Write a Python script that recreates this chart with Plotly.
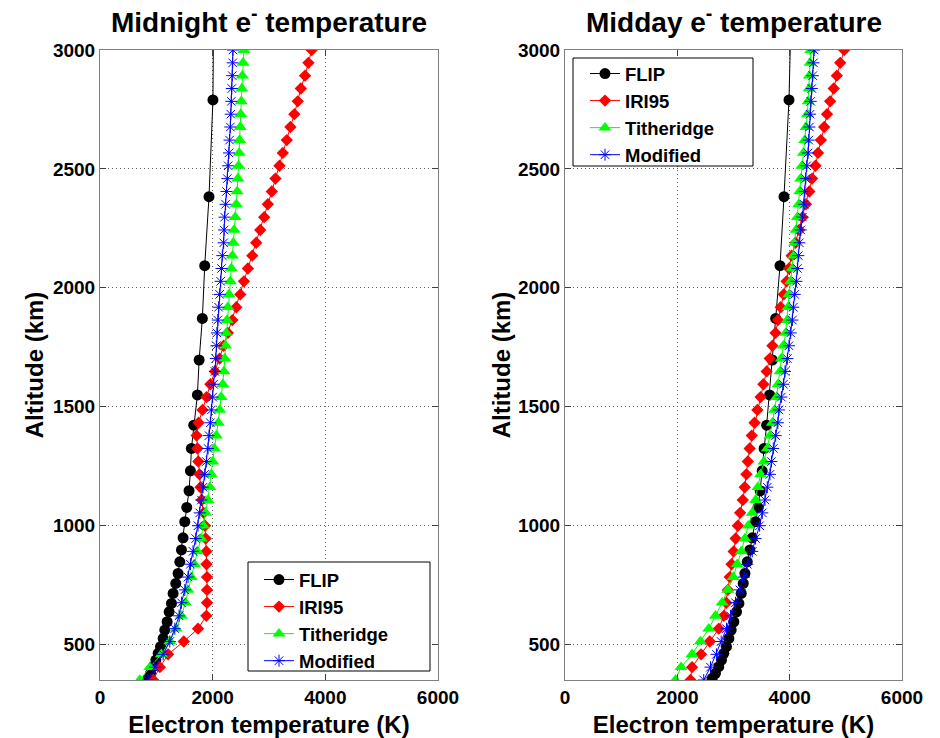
import plotly.graph_objects as go

# Model altitude grid (km), top to bottom
ALT_MODEL = [3000, 2946, 2892, 2838, 2784, 2730, 2676, 2621, 2567, 2513,
             2459, 2405, 2351, 2297, 2243, 2189, 2135, 2081, 2027, 1972,
             1918, 1864, 1810, 1756, 1702, 1648, 1594, 1540, 1486, 1432,
             1378, 1324, 1269, 1215, 1161, 1107, 1053, 999, 945, 891,
             837, 783, 729, 675, 620, 566, 512, 458, 404, 350]

# FLIP field-line altitudes (km)
ALT_FLIP = [3300, 2790, 2383, 2093, 1871, 1696, 1549, 1422, 1324, 1230,
            1146, 1076, 1016, 948, 897, 847, 798, 756, 714, 672,
            637, 595, 560, 525, 490, 462, 434, 406, 378, 357]

# Midnight electron temperatures (K)
MID_FLIP = [2020, 2005, 1935, 1859, 1817, 1760, 1729, 1664, 1623, 1605,
            1581, 1540, 1505, 1475, 1446, 1416, 1386, 1345, 1298, 1269,
            1227, 1192, 1150, 1121, 1074, 1033, 991, 944, 897, 855]
MID_IRI95 = [3758, 3700, 3640, 3565, 3510, 3450, 3380, 3316, 3245, 3186,
             3115, 3050, 2980, 2915, 2845, 2773, 2703, 2625, 2555, 2490,
             2420, 2350, 2270, 2195, 2124, 2040, 1960, 1890, 1820, 1750,
             1715, 1730, 1745, 1765, 1785, 1805, 1841, 1864, 1876, 1888,
             1890, 1900, 1900, 1900, 1888, 1740, 1487, 1209, 1062, 944]
MID_TITHERIDGE = [2555, 2540, 2527, 2518, 2508, 2498, 2490, 2478, 2470, 2460,
                  2448, 2435, 2420, 2400, 2380, 2365, 2350, 2330, 2313, 2290,
                  2270, 2255, 2240, 2228, 2215, 2200, 2180, 2150, 2125, 2100,
                  2065, 2030, 2000, 1975, 1950, 1915, 1870, 1835, 1795, 1730,
                  1675, 1620, 1560, 1515, 1445, 1350, 1240, 1090, 885, 708]
MID_MODIFIED = [2360, 2355, 2348, 2340, 2331, 2322, 2313, 2300, 2289, 2275,
                2260, 2245, 2230, 2212, 2203, 2195, 2171, 2157, 2142, 2124,
                2105, 2090, 2075, 2065, 2055, 2040, 2015, 2000, 1977, 1959,
                1935, 1918, 1888, 1859, 1829, 1800, 1770, 1740, 1699, 1652,
                1605, 1563, 1505, 1446, 1404, 1328, 1239, 1121, 974, 855]

# Midday electron temperatures (K)
DAY_FLIP = [4040, 3988, 3899, 3828, 3751, 3691, 3643, 3590, 3545, 3510,
            3475, 3435, 3393, 3334, 3292, 3245, 3203, 3173, 3138, 3096,
            3054, 3006, 2959, 2917, 2875, 2828, 2786, 2738, 2679, 2620]
DAY_IRI95 = [4971, 4900, 4840, 4785, 4720, 4665, 4615, 4555, 4505, 4460,
             4400, 4350, 4290, 4230, 4170, 4105, 4035, 3988, 3945, 3895,
             3840, 3792, 3748, 3693, 3645, 3590, 3532, 3482, 3425, 3375,
             3325, 3288, 3255, 3230, 3200, 3165, 3118, 3078, 3038, 3003,
             2965, 2933, 2900, 2872, 2828, 2738, 2577, 2423, 2262, 2233]
DAY_TITHERIDGE = [4376, 4364, 4352, 4346, 4328, 4316, 4292, 4269, 4245, 4221,
                  4197, 4179, 4162, 4138, 4114, 4090, 4072, 4048, 4018, 3988,
                  3971, 3959, 3929, 3888, 3852, 3828, 3792, 3768, 3733, 3691,
                  3649, 3602, 3542, 3483, 3435, 3393, 3334, 3263, 3203, 3138,
                  3066, 2995, 2899, 2798, 2679, 2560, 2411, 2262, 2066, 1965]
DAY_MODIFIED = [4435, 4423, 4411, 4394, 4376, 4364, 4352, 4340, 4328, 4304,
                4286, 4269, 4257, 4227, 4197, 4172, 4155, 4138, 4120, 4090,
                4066, 4048, 4018, 3988, 3959, 3917, 3888, 3852, 3810, 3790,
                3751, 3709, 3675, 3649, 3602, 3560, 3513, 3465, 3393, 3334,
                3245, 3185, 3114, 3036, 2947, 2875, 2781, 2697, 2590, 2470]

X_TICKS = [0, 2000, 4000, 6000]
Y_TICKS = [500, 1000, 1500, 2000, 2500, 3000]
TITLES = ["Midnight e<sup>-</sup> temperature", "Midday e<sup>-</sup> temperature"]

FONT = "Liberation Sans, Arial, Helvetica, sans-serif"

STYLES = {
    "FLIP": dict(color="#000000", symbol="circle", size=11),
    "IRI95": dict(color="#ff0000", symbol="diamond", size=9.5),
    "Titheridge": dict(color="#00ff00", symbol="triangle-up", size=11.5),
    "Modified": dict(color="#0000ff", symbol="asterisk-open", size=10),
}

W, H = 940, 738
ML, MR, MT, MB = 100, 38, 50, 58
PW, PH = W - ML - MR, H - MT - MB


def px_x(p):
    return (p - ML) / PW


def px_y(p):
    return 1 - (p - MT) / PH


fig = go.Figure()

panels = [
    ("x", "y", "legend", [
        ("FLIP", MID_FLIP, ALT_FLIP),
        ("IRI95", MID_IRI95, ALT_MODEL),
        ("Titheridge", MID_TITHERIDGE, ALT_MODEL),
        ("Modified", MID_MODIFIED, ALT_MODEL),
    ]),
    ("x2", "y2", "legend2", [
        ("FLIP", DAY_FLIP, ALT_FLIP),
        ("IRI95", DAY_IRI95, ALT_MODEL),
        ("Titheridge", DAY_TITHERIDGE, ALT_MODEL),
        ("Modified", DAY_MODIFIED, ALT_MODEL),
    ]),
]

for xa, ya, leg, series in panels:
    for name, temps, alts in series:
        st = STYLES[name]
        is_star = st["symbol"].startswith("asterisk")
        fig.add_trace(go.Scatter(
            x=temps, y=alts, name=name, mode="lines+markers",
            xaxis=xa, yaxis=ya, legend=leg,
            line=dict(color=st["color"], width=1),
            marker=dict(symbol=st["symbol"], size=st["size"], color=st["color"],
                        line=dict(color=st["color"], width=1 if is_star else 0)),
        ))

axis_common = dict(
    showline=True, linecolor="#808080", linewidth=1, mirror="ticks",
    ticks="inside", ticklen=6, tickcolor="#404040",
    showgrid=True, gridcolor="#606060", griddash="1px,3px", gridwidth=1,
    zeroline=False, automargin=False,
    tickfont=dict(family=FONT, size=19, color="#000000", weight="bold"),
)
title_font = dict(family=FONT, size=24, color="#000000", weight="bold")

left_dom = [0, px_x(438)]
right_dom = [px_x(565), 1]

legend_font = dict(family=FONT, size=18.5, color="#000000", weight="bold")

fig.update_layout(
    width=W, height=H,
    margin=dict(l=ML, r=MR, t=MT, b=MB, autoexpand=False),
    paper_bgcolor="white", plot_bgcolor="white",
    font=dict(family=FONT, color="#000000"),
    xaxis=dict(domain=left_dom, range=[0, 6000], tickvals=X_TICKS, anchor="y",
               title=dict(text="Electron temperature (K)", font=title_font, standoff=10),
               **axis_common),
    yaxis=dict(domain=[0, 1], range=[350, 3000], tickvals=Y_TICKS, anchor="x",
               title=dict(text="Altitude (km)", font=title_font, standoff=2),
               **axis_common),
    xaxis2=dict(domain=right_dom, range=[0, 6000], tickvals=X_TICKS, anchor="y2",
                title=dict(text="Electron temperature (K)", font=title_font, standoff=10),
                **axis_common),
    yaxis2=dict(domain=[0, 1], range=[350, 3000], tickvals=Y_TICKS, anchor="x2",
                title=dict(text="Altitude (km)", font=title_font, standoff=0),
                **axis_common),
    legend=dict(x=px_x(259), y=px_y(561), xanchor="left", yanchor="top",
                bgcolor="rgba(0,0,0,0)", borderwidth=0, font=legend_font),
    legend2=dict(x=px_x(585), y=px_y(55), xanchor="left", yanchor="top",
                 bgcolor="rgba(0,0,0,0)", borderwidth=0, font=legend_font),
    showlegend=True,
)

# Opaque legend frames
for x0, y0, x1, y1 in [(248, 562, 430, 671), (573, 58, 753, 166)]:
    fig.add_shape(type="rect", xref="paper", yref="paper",
                  x0=px_x(x0), x1=px_x(x1), y0=px_y(y1), y1=px_y(y0),
                  fillcolor="white", line=dict(color="#000000", width=1),
                  layer="above")

# Panel titles
for dom, text in zip([left_dom, right_dom], TITLES):
    fig.add_annotation(
        text=text, xref="paper", yref="paper",
        x=(dom[0] + dom[1]) / 2, y=1, xanchor="center", yanchor="bottom",
        yshift=10, showarrow=False,
        font=dict(family=FONT, size=28, color="#000000", weight="bold"),
    )

fig.write_html("out.html")
